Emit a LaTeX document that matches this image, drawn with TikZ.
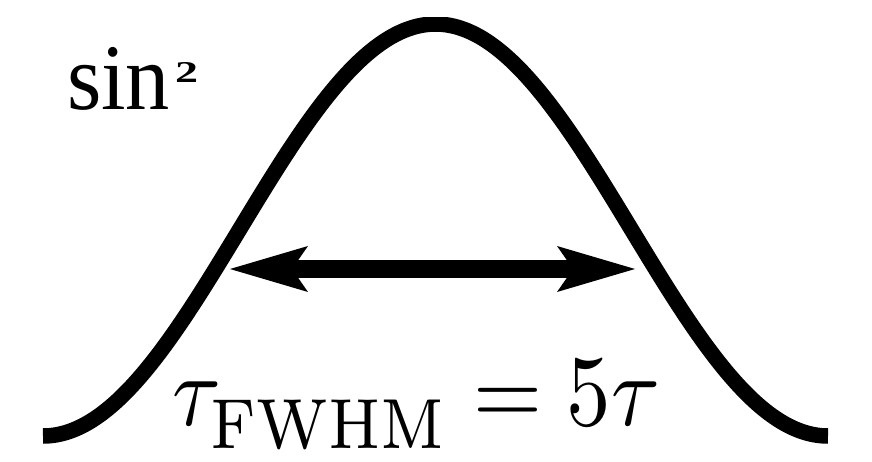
\documentclass[tikz,border=0pt]{standalone}
\usepackage{fontspec}
\usepackage{graphicx}
\usetikzlibrary{arrows.meta}
\newfontfamily\labelfont{Liberation Serif}
\tikzset{
  pulse/.style={line width=15.5pt, black},
  fwhmarrow/.style={line width=18pt, black,
    {Stealth[length=78pt,width=46pt,inset=16pt,line width=0pt]}-{Stealth[length=78pt,width=46pt,inset=16pt,line width=0pt]}},
  lbl/.style={inner sep=0pt, outer sep=0pt}
}
\begin{document}
\begin{tikzpicture}[x=1pt,y=-1pt]
\useasboundingbox (0,0) rectangle (872,462);
\begin{scope}
  \clip (0,18) rectangle (872,462);
  \draw[pulse] plot[domain=0:180, samples=240, smooth]
    ({43 + 4.36111*\x}, {436 - 412*(sin(\x))^2});
\end{scope}
\coordinate (L) at (230,269);
\coordinate (R) at (635,269);
\draw[fwhmarrow] (L) -- (R);
\node[lbl, anchor=north west] (sin) at (67,47)
  {\resizebox*{103pt}{63pt}{\labelfont sin}};
\node[lbl, anchor=north west] (sq) at (175,63)
  {\resizebox*{23pt}{20pt}{\labelfont\bfseries 2}};
\node[lbl, anchor=north west] (eq) at (172,360)
  {\resizebox*{488pt}{90pt}{$\tau_{\raisebox{-0.08em}{$\scriptstyle\mathrm{FWHM}$}}=5\tau$}};
\end{tikzpicture}
\end{document}
